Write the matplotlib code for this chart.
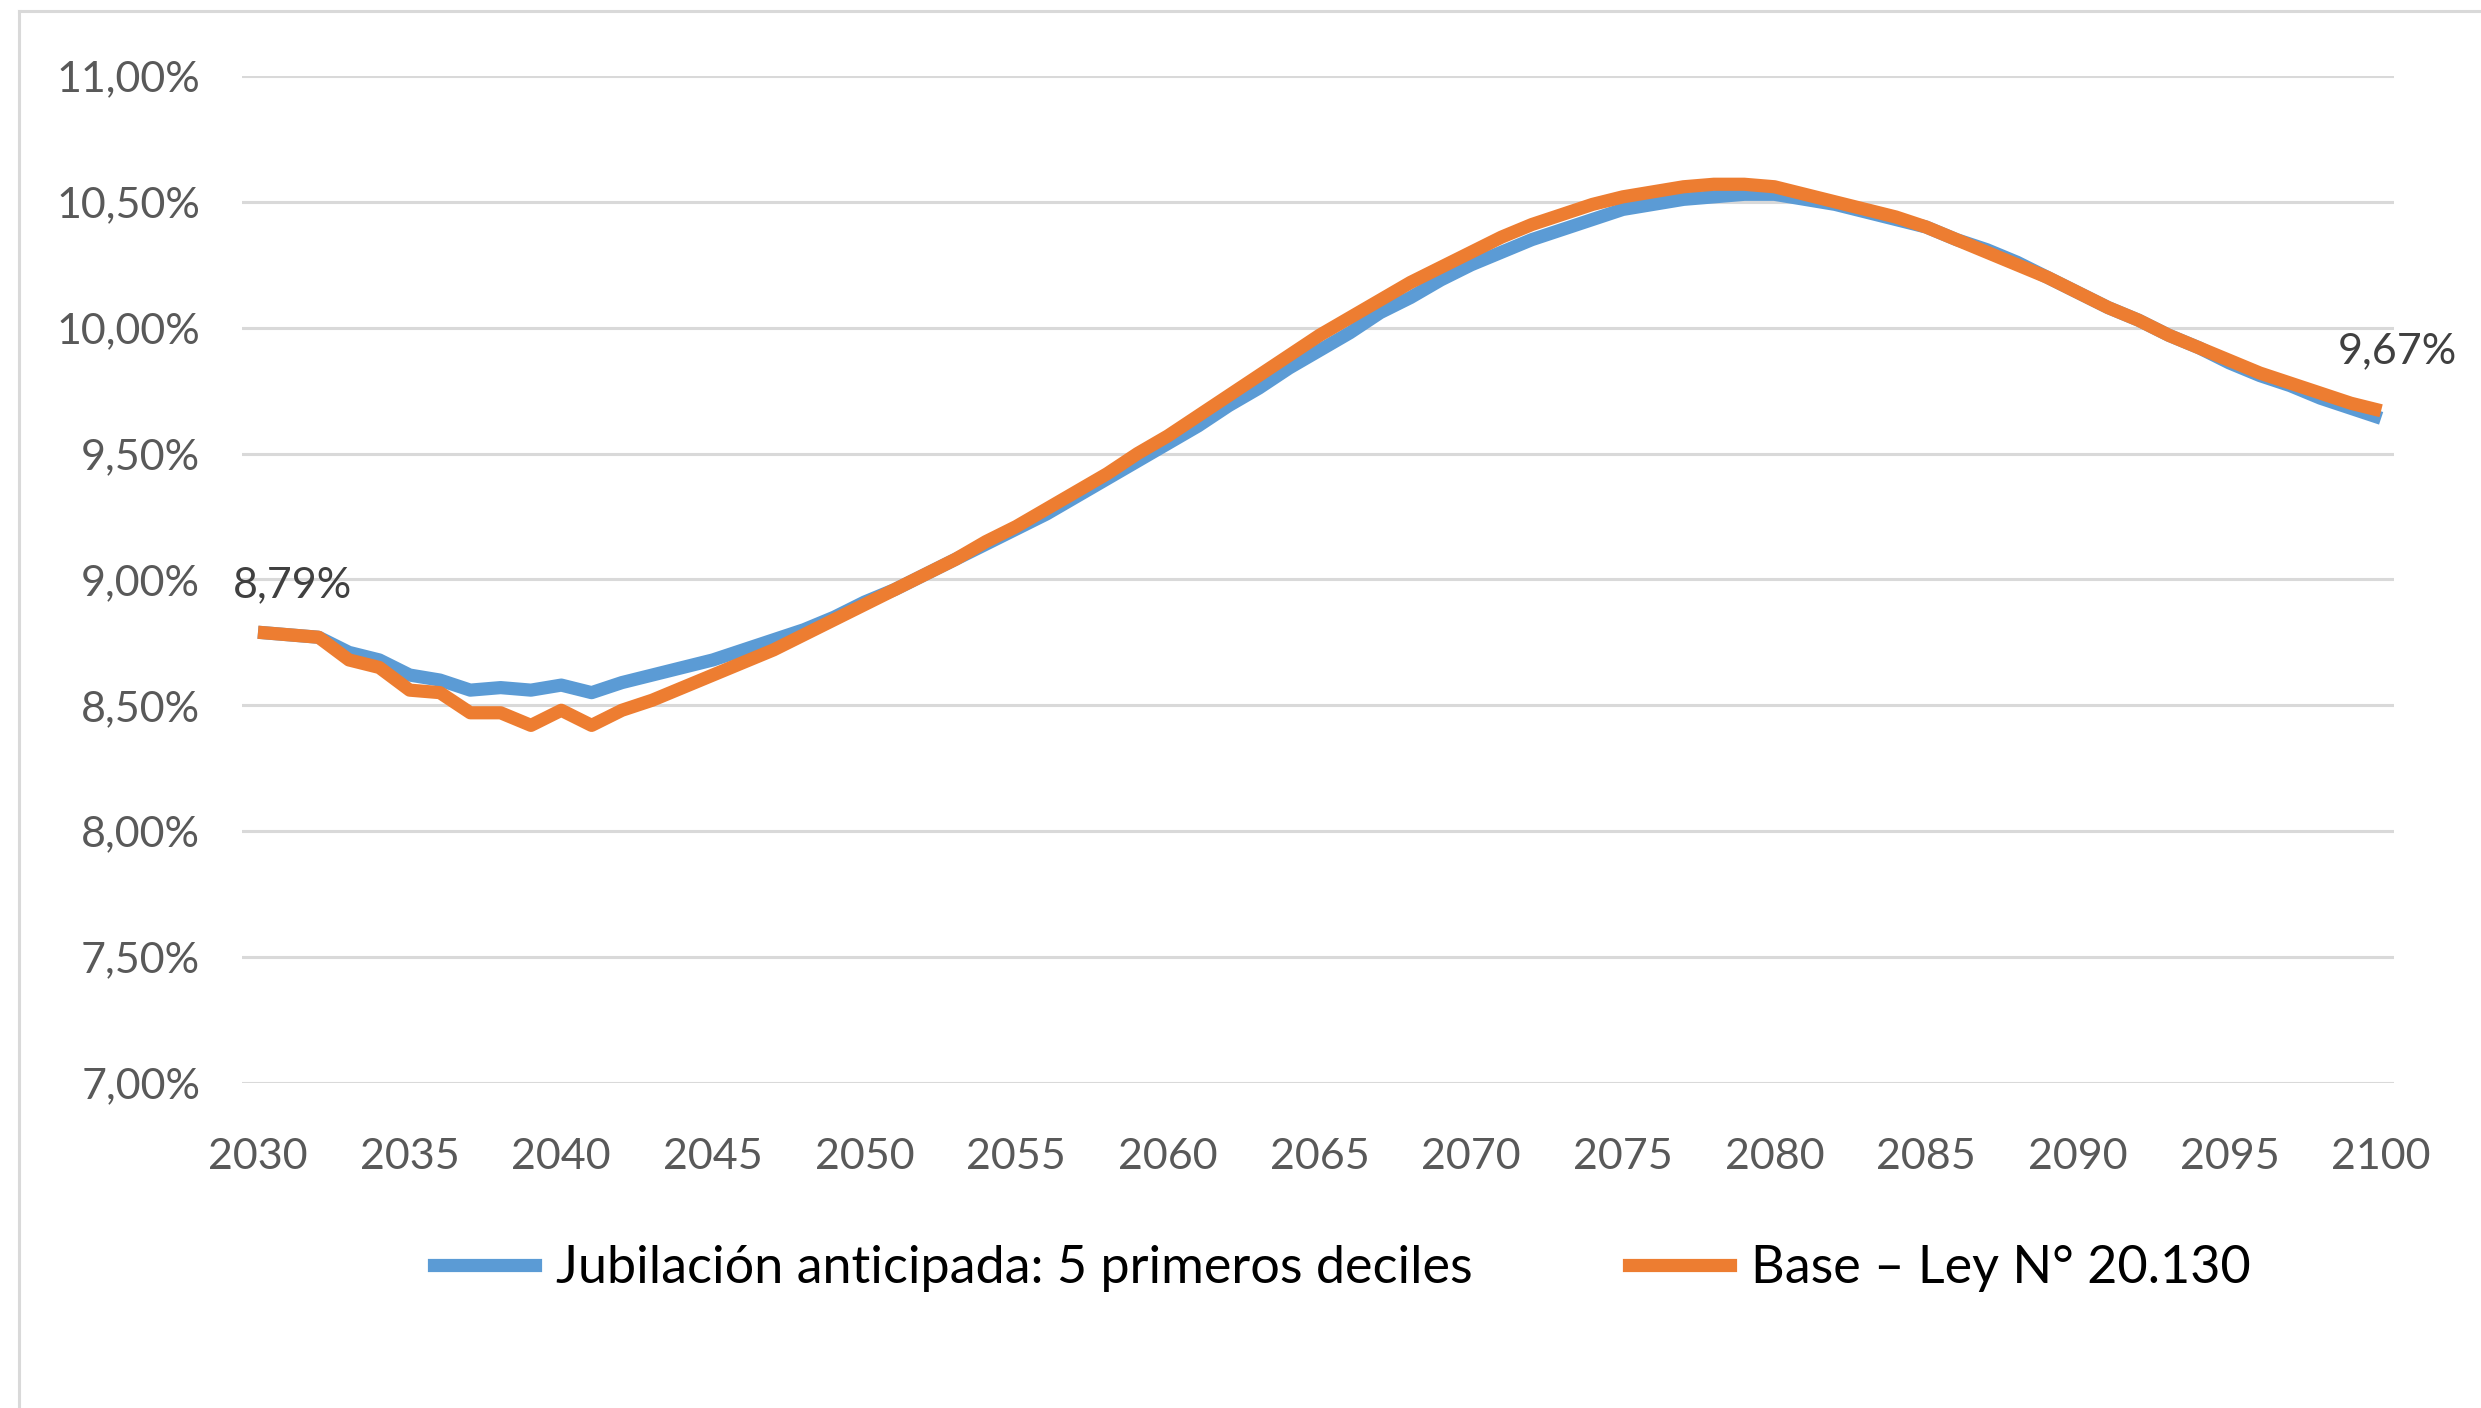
import matplotlib.pyplot as plt
from matplotlib.lines import Line2D

years = list(range(2030, 2101))

# Jubilación anticipada: 5 primeros deciles (%)
anticipada = [8.79, 8.78, 8.77, 8.71, 8.68, 8.62, 8.60, 8.56, 8.57, 8.56,
              8.58, 8.55, 8.59, 8.62, 8.65, 8.68, 8.72, 8.76, 8.80, 8.85,
              8.91, 8.96, 9.02, 9.08, 9.14, 9.20, 9.26, 9.33, 9.40, 9.47,
              9.54, 9.61, 9.69, 9.76, 9.84, 9.91, 9.98, 10.06, 10.12, 10.19,
              10.25, 10.30, 10.35, 10.39, 10.43, 10.47, 10.49, 10.51, 10.52, 10.53,
              10.53, 10.51, 10.49, 10.46, 10.43, 10.40, 10.35, 10.31, 10.26, 10.20,
              10.14, 10.08, 10.03, 9.97, 9.92, 9.86, 9.81, 9.77, 9.72, 9.68,
              9.64]

# Base – Ley N° 20.130 (%)
base = [8.79, 8.78, 8.77, 8.68, 8.65, 8.56, 8.55, 8.47, 8.47, 8.42,
        8.48, 8.42, 8.48, 8.52, 8.57, 8.62, 8.67, 8.72, 8.78, 8.84,
        8.90, 8.96, 9.02, 9.08, 9.15, 9.21, 9.28, 9.35, 9.42, 9.50,
        9.57, 9.65, 9.73, 9.81, 9.89, 9.97, 10.04, 10.11, 10.18, 10.24,
        10.30, 10.36, 10.41, 10.45, 10.49, 10.52, 10.54, 10.56, 10.57, 10.57,
        10.56, 10.53, 10.50, 10.47, 10.44, 10.40, 10.35, 10.30, 10.25, 10.20,
        10.14, 10.08, 10.03, 9.97, 9.92, 9.87, 9.82, 9.78, 9.74, 9.70,
        9.67]

y_ticks = [7.0, 7.5, 8.0, 8.5, 9.0, 9.5, 10.0, 10.5, 11.0]
x_ticks = list(range(2030, 2101, 5))

label_a = "Jubilación anticipada: 5 primeros deciles"
label_b = "Base – Ley N° 20.130"

blue = "#5b9bd5"
orange = "#ed7d31"
grey_txt = "#595959"

plt.rcParams['font.family'] = ['Lato', 'DejaVu Sans']

fig = plt.figure(figsize=(24.81, 14.08), dpi=100)
ax = fig.add_axes([0.0975, 0.231, 0.8675, 0.715])

# outer chart frame (left and top edges visible)
fig.add_artist(Line2D([19 / 2481, 19 / 2481], [0, 1 - 11 / 1408],
                      color="#d9d9d9", lw=2.2, transform=fig.transFigure))
fig.add_artist(Line2D([19 / 2481, 1], [1 - 11 / 1408, 1 - 11 / 1408],
                      color="#d9d9d9", lw=2.2, transform=fig.transFigure))

ax.plot(years, anticipada, color=blue, lw=9.5, solid_capstyle='butt', zorder=3)
ax.plot(years, base, color=orange, lw=9.5, solid_capstyle='butt', zorder=4)

ax.set_ylim(7.0, 11.0)
ax.set_xlim(2029.47, 2100.43)
ax.set_yticks(y_ticks)
ax.set_yticklabels([f"{v:.2f}%".replace(".", ",") for v in y_ticks])
ax.set_xticks(x_ticks)
ax.set_xticklabels([str(x) for x in x_ticks])
ax.tick_params(axis='both', length=0, labelsize=31, colors=grey_txt)
ax.tick_params(axis='y', pad=30)
ax.tick_params(axis='x', pad=40)

ax.grid(axis='y', color="#d9d9d9", lw=2.2)
ax.set_axisbelow(True)
for s in ax.spines.values():
    s.set_visible(False)

ax.annotate(f"{base[0]:.2f}%".replace(".", ","), (years[0], base[0]),
            xytext=(25, 34), textcoords='offset points', ha='center', va='center',
            fontsize=31, color="#404040")
ax.annotate(f"{base[-1]:.2f}%".replace(".", ","), (years[-1], base[-1]),
            xytext=(12, 43), textcoords='offset points', ha='center', va='center',
            fontsize=31, color="#404040")

handles = [Line2D([], [], color=blue, lw=9.5), Line2D([], [], color=orange, lw=9.5)]
fig.legend(handles, [label_a, label_b], loc='center', bbox_to_anchor=(0.541, 0.099),
           ncol=2, frameon=False, fontsize=37.5, handlelength=1.95,
           handletextpad=0.4, columnspacing=3.0)

fig.savefig("out.png", dpi=100)
